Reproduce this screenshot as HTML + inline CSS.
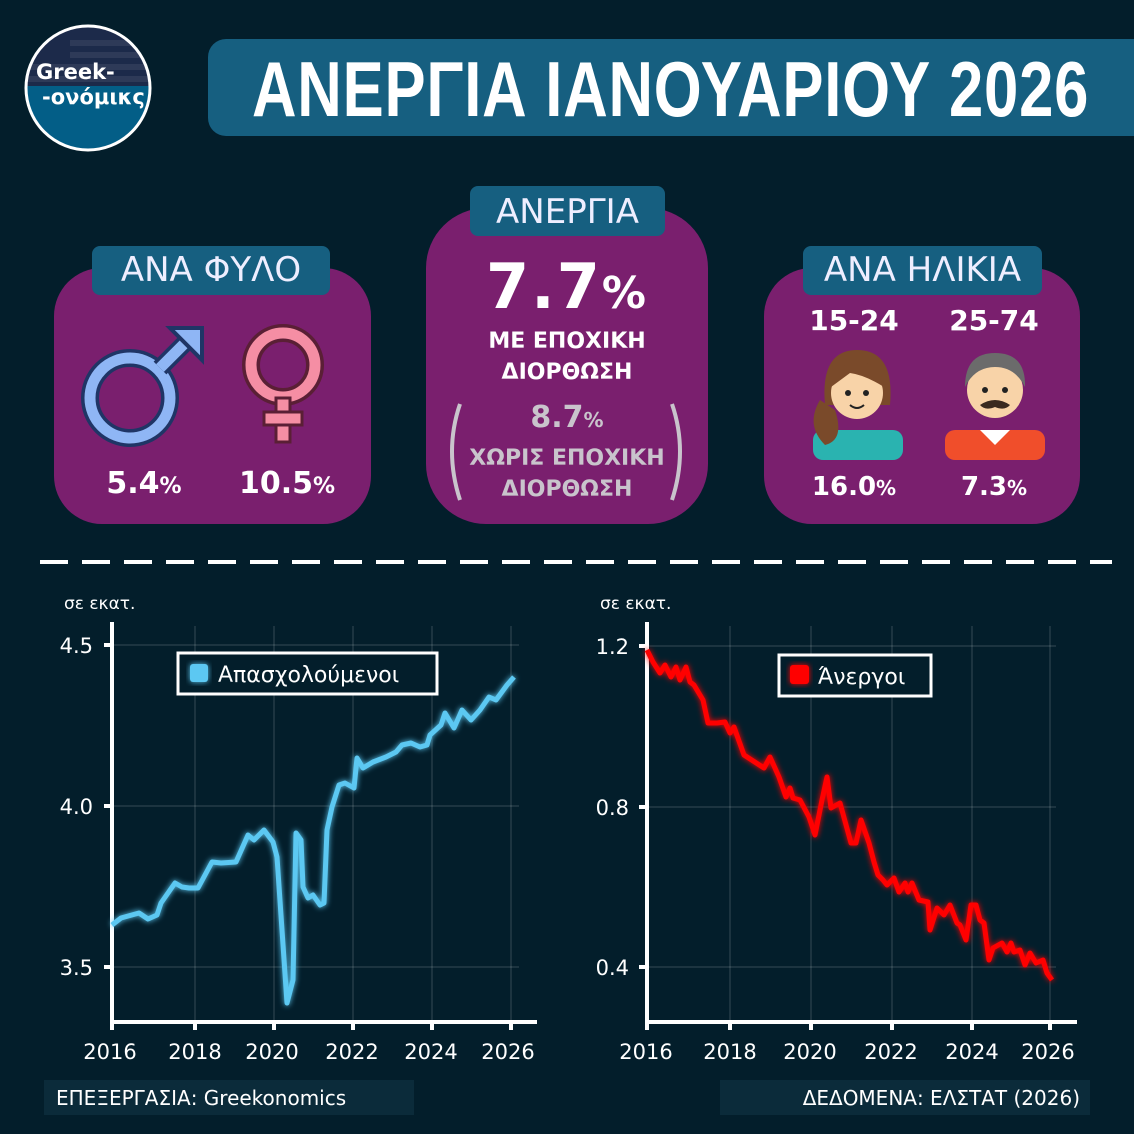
<!DOCTYPE html>
<html><head><meta charset="utf-8"><style>
*{margin:0;padding:0;box-sizing:border-box}
body{width:1134px;height:1134px;background:#031e2b;position:relative;overflow:hidden;font-family:"Liberation Sans","DejaVu Sans",sans-serif;color:#fff}
.a{position:absolute}
.lab{position:absolute;background:#165f80;border-radius:8px;color:#eef;font-size:34px;text-align:center;font-family:"DejaVu Sans",sans-serif}
.card{position:absolute;background:#7a1f6e;border-radius:48px}
.t{position:absolute;font-family:"DejaVu Sans",sans-serif;color:#fff;text-align:center}
</style></head><body>
<svg class="a" style="left:0;top:0" width="1134" height="1134">
 <defs><clipPath id="cc"><circle cx="88" cy="88" r="61"/></clipPath>
 <filter id="g" x="-20%" y="-20%" width="140%" height="140%"><feGaussianBlur stdDeviation="3" result="b"/><feMerge><feMergeNode in="b"/><feMergeNode in="SourceGraphic"/></feMerge></filter></defs>
 <g clip-path="url(#cc)"><rect x="20" y="20" width="140" height="66" fill="#1c2a4a"/>
 <rect x="20" y="86" width="140" height="70" fill="#035e87"/>
 <rect x="70" y="40" width="90" height="6" fill="#2e3a58"/><rect x="70" y="52" width="90" height="6" fill="#2e3a58"/><rect x="20" y="64" width="140" height="6" fill="#2e3a58"/><rect x="20" y="76" width="140" height="6" fill="#2e3a58"/></g>
 <circle cx="88" cy="88" r="62" fill="none" stroke="#fff" stroke-width="3"/>
 <text x="36" y="79" font-size="21" font-weight="bold" fill="#fff" font-family="DejaVu Sans">Greek-</text>
 <text x="42" y="104" font-size="21" font-weight="bold" fill="#fff" font-family="DejaVu Sans">-ονόμικς</text>
 <line x1="40" y1="562" x2="1112" y2="562" stroke="#fff" stroke-width="4" stroke-dasharray="28,14"/>
 <g stroke="#ffffff" stroke-opacity="0.2" stroke-width="1">
  <line x1="112" y1="645" x2="519" y2="645"/><line x1="112" y1="806" x2="519" y2="806"/><line x1="112" y1="967" x2="519" y2="967"/>
  <line x1="195" y1="626" x2="195" y2="1020"/><line x1="274" y1="626" x2="274" y2="1020"/><line x1="353" y1="626" x2="353" y2="1020"/><line x1="432" y1="626" x2="432" y2="1020"/><line x1="511" y1="626" x2="511" y2="1020"/>
  <line x1="647" y1="646" x2="1056" y2="646"/><line x1="647" y1="807" x2="1056" y2="807"/><line x1="647" y1="967" x2="1056" y2="967"/>
  <line x1="730" y1="626" x2="730" y2="1020"/><line x1="811" y1="626" x2="811" y2="1020"/><line x1="892" y1="626" x2="892" y2="1020"/><line x1="972" y1="626" x2="972" y2="1020"/><line x1="1050" y1="626" x2="1050" y2="1020"/>
 </g>
 <g stroke="#fff" stroke-width="4" fill="none">
  <polyline points="112,622 112,1022 537,1022"/>
  <line x1="112" y1="1022" x2="112" y2="1030"/><line x1="195" y1="1022" x2="195" y2="1030"/><line x1="274" y1="1022" x2="274" y2="1030"/><line x1="353" y1="1022" x2="353" y2="1030"/><line x1="432" y1="1022" x2="432" y2="1030"/><line x1="511" y1="1022" x2="511" y2="1030"/>
  <line x1="104" y1="645" x2="112" y2="645"/><line x1="104" y1="806" x2="112" y2="806"/><line x1="104" y1="967" x2="112" y2="967"/>
  <polyline points="647,622 647,1022 1077,1022"/>
  <line x1="647" y1="1022" x2="647" y2="1030"/><line x1="730" y1="1022" x2="730" y2="1030"/><line x1="811" y1="1022" x2="811" y2="1030"/><line x1="892" y1="1022" x2="892" y2="1030"/><line x1="972" y1="1022" x2="972" y2="1030"/><line x1="1050" y1="1022" x2="1050" y2="1030"/>
  <line x1="639" y1="646" x2="647" y2="646"/><line x1="639" y1="807" x2="647" y2="807"/><line x1="639" y1="967" x2="647" y2="967"/>
 </g>
 <polyline filter="url(#g)" fill="none" stroke="#5bc8f2" stroke-width="5" stroke-linejoin="round" points="112,925 121,918 139,913 148,919 157,915 161,903 175,883 182,887 189,888 198,888 212,862 221,863 236,862 248,835 254,840 264,830 273,842 277,857 287,1003 293,980 296,833 301,840 303,887 308,898 313,895 320,905 324,903 327,830 332,807 339,785 345,783 354,788 357,758 363,768 373,762 386,757 396,752 402,745 411,743 420,747 427,745 430,735 441,725 445,713 454,728 462,710 471,720 480,710 489,697 496,700 507,685 514,677"/>
 <polyline filter="url(#g)" fill="none" stroke="#ff0000" stroke-width="5" stroke-linejoin="round" points="647,650 653,662 660,673 665,665 671,677 676,667 680,680 686,667 690,682 694,685 703,700 708,723 717,723 725,722 730,733 734,727 744,755 764,768 770,757 779,777 786,797 790,788 793,798 800,800 809,817 815,835 822,800 827,777 831,808 840,803 851,843 856,843 861,820 869,843 874,862 878,875 883,880 887,885 894,878 899,892 905,883 908,892 912,883 919,900 928,902 930,930 937,908 944,915 950,905 957,923 960,925 966,940 971,905 976,905 980,920 984,923 989,960 993,948 1002,943 1007,952 1011,943 1014,952 1020,950 1025,965 1030,953 1036,963 1043,960 1047,973 1052,980"/>
 <g font-family="DejaVu Sans" font-size="21" fill="#fff">
  <text x="93" y="653" text-anchor="end">4.5</text><text x="93" y="814" text-anchor="end">4.0</text><text x="93" y="975" text-anchor="end">3.5</text>
  <text x="629" y="654" text-anchor="end">1.2</text><text x="629" y="815" text-anchor="end">0.8</text><text x="629" y="975" text-anchor="end">0.4</text>
  <g text-anchor="middle"><text x="110" y="1059">2016</text><text x="195" y="1059">2018</text><text x="272" y="1059">2020</text><text x="352" y="1059">2022</text><text x="431" y="1059">2024</text><text x="508" y="1059">2026</text>
  <text x="646" y="1059">2016</text><text x="730" y="1059">2018</text><text x="810" y="1059">2020</text><text x="891" y="1059">2022</text><text x="972" y="1059">2024</text><text x="1048" y="1059">2026</text></g>
  <text x="64" y="609" font-size="17">σε εκατ.</text><text x="600" y="609" font-size="17">σε εκατ.</text>
 </g>
 <rect x="178" y="653" width="259" height="41" fill="#031e2b" stroke="#fff" stroke-width="3"/>
 <rect x="190" y="664" width="18" height="18" rx="3" fill="#5bc8f2" filter="url(#g)"/>
 <text x="218" y="682" font-family="DejaVu Sans" font-size="22" fill="#fff">Απασχολούμενοι</text>
 <rect x="779" y="655" width="152" height="41" fill="#031e2b" stroke="#fff" stroke-width="3"/>
 <rect x="790" y="665" width="19" height="19" rx="3" fill="#f00" filter="url(#g)"/>
 <text x="818" y="684" font-family="DejaVu Sans" font-size="22" fill="#fff">Άνεργοι</text>
 <rect x="44" y="1080" width="370" height="35" fill="#0b2b3a"/>
 <rect x="720" y="1080" width="370" height="35" fill="#0b2b3a"/>
 <text x="56" y="1105" font-family="DejaVu Sans" font-size="20" fill="#fff">ΕΠΕΞΕΡΓΑΣΙΑ: Greekonomics</text>
 <text x="1080" y="1105" text-anchor="end" font-family="DejaVu Sans" font-size="20" fill="#fff">ΔΕΔΟΜΕΝΑ: ΕΛΣΤΑΤ (2026)</text>
</svg>
<div class="a" style="left:208px;top:39px;width:950px;height:97px;background:#165f80;border-radius:18px"></div>
<div class="a" style="left:252px;top:44px;font-size:78px;font-weight:bold;white-space:nowrap;transform:scaleX(0.79);transform-origin:0 0;letter-spacing:1px">ΑΝΕΡΓΙΑ ΙΑΝΟΥΑΡΙΟΥ 2026</div>

<div class="card" style="left:54px;top:268px;width:317px;height:256px"></div>
<div class="card" style="left:426px;top:208px;width:282px;height:316px;border-radius:60px"></div>
<div class="card" style="left:764px;top:268px;width:316px;height:256px"></div>
<div class="lab" style="left:92px;top:246px;width:238px;height:49px;line-height:49px">ΑΝΑ ΦΥΛΟ</div>
<div class="lab" style="left:470px;top:186px;width:195px;height:50px;line-height:52px">ΑΝΕΡΓΙΑ</div>
<div class="lab" style="left:803px;top:246px;width:239px;height:49px;line-height:49px">ΑΝΑ ΗΛΙΚΙΑ</div>

<svg class="a" style="left:80px;top:320px" width="260" height="130">
 <circle cx="50" cy="78" r="40" fill="none" stroke="#1f3566" stroke-width="18"/>
 <circle cx="50" cy="78" r="40" fill="none" stroke="#8fb6f5" stroke-width="11"/>
 <line x1="80" y1="48" x2="112" y2="16" stroke="#1f3566" stroke-width="18"/>
 <line x1="80" y1="48" x2="112" y2="16" stroke="#8fb6f5" stroke-width="11"/>
 <polygon points="90,8 122,8 122,40" fill="#8fb6f5" stroke="#1f3566" stroke-width="4"/>
 <circle cx="203" cy="45" r="32" fill="none" stroke="#5a1f35" stroke-width="18"/>
 <circle cx="203" cy="45" r="32" fill="none" stroke="#f58ea4" stroke-width="11"/>
 <rect x="196" y="78" width="14" height="44" fill="#f58ea4" stroke="#5a1f35" stroke-width="3"/>
 <rect x="184" y="92" width="38" height="13" fill="#f58ea4" stroke="#5a1f35" stroke-width="3"/>
</svg>
<div class="t" style="left:94px;top:466px;width:100px;font-size:30px;font-weight:bold">5.4<span style="font-size:22px">%</span></div>
<div class="t" style="left:222px;top:466px;width:130px;font-size:30px;font-weight:bold">10.5<span style="font-size:22px">%</span></div>

<div class="t" style="left:426px;top:250px;width:282px;font-size:62px;font-weight:bold;letter-spacing:2px">7.7<span style="font-size:44px">%</span></div>
<div class="t" style="left:426px;top:326px;width:282px;font-size:22px;font-weight:bold;line-height:31px">ΜΕ ΕΠΟΧΙΚΗ<br>ΔΙΟΡΘΩΣΗ</div>
<div class="t" style="left:426px;top:400px;width:282px;font-size:30px;font-weight:bold;color:#c9c4cc">8.7<span style="font-size:20px">%</span></div>
<div class="t" style="left:426px;top:443px;width:282px;font-size:22px;font-weight:bold;line-height:31px;color:#c9c4cc">ΧΩΡΙΣ ΕΠΟΧΙΚΗ<br>ΔΙΟΡΘΩΣΗ</div>
<svg class="a" style="left:440px;top:398px" width="260" height="110"><path d="M20 6 Q4 53 20 102" stroke="#c9c4cc" stroke-width="4" fill="none"/><path d="M232 6 Q248 53 232 102" stroke="#c9c4cc" stroke-width="4" fill="none"/></svg>

<div class="t" style="left:794px;top:304px;width:120px;font-size:28px;font-weight:bold">15-24</div>
<div class="t" style="left:934px;top:304px;width:120px;font-size:28px;font-weight:bold">25-74</div>
<svg class="a" style="left:800px;top:345px" width="260" height="115">
 <path d="M25 60 Q20 5 57 5 Q95 5 90 60 Z" fill="#7a4a2a"/>
 <rect x="13" y="85" width="90" height="30" rx="10" fill="#2ab3b0"/>
 <circle cx="57" cy="48" r="26" fill="#f8d3a8"/>
 <path d="M31 42 Q40 15 57 18 Q80 15 84 42 Q65 30 50 28 Z" fill="#7a4a2a"/>
 <path d="M20 55 Q5 80 25 100 Q45 95 35 65 Z" fill="#7a4a2a"/>
 <circle cx="48" cy="48" r="3" fill="#222"/><circle cx="66" cy="48" r="3" fill="#222"/>
 <path d="M50 60 Q57 66 64 60" stroke="#222" stroke-width="2" fill="none"/>
 <rect x="145" y="85" width="100" height="30" rx="10" fill="#f04e2b"/>
 <polygon points="180,85 195,100 210,85" fill="#fff"/>
 <circle cx="195" cy="45" r="28" fill="#f8d3a8"/>
 <path d="M165 42 Q165 8 195 8 Q226 8 225 42 Q215 22 195 22 Q175 22 165 42 Z" fill="#6b6b6b"/>
 <path d="M180 60 Q195 50 210 60 Q205 66 195 62 Q185 66 180 60 Z" fill="#3a2a20"/>
 <circle cx="185" cy="45" r="3" fill="#222"/><circle cx="205" cy="45" r="3" fill="#222"/>
</svg>
<div class="t" style="left:794px;top:472px;width:120px;font-size:26px;font-weight:bold">16.0<span style="font-size:20px">%</span></div>
<div class="t" style="left:934px;top:472px;width:120px;font-size:26px;font-weight:bold">7.3<span style="font-size:20px">%</span></div>
</body></html>
